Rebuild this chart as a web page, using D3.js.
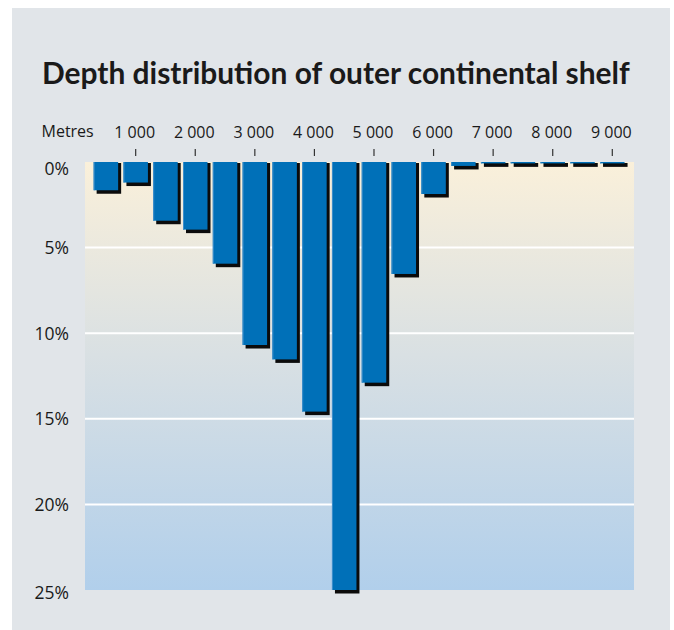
<!DOCTYPE html>
<meta charset="utf-8">
<title>Depth distribution of outer continental shelf</title>
<style>
body {
  margin: 0px;
  background: #fff;
}
text {
  font-family: "Open Sans", sans-serif;
  fill: #1a1a1a;
}
</style>
<script src="https://cdn.jsdelivr.net/npm/d3@7"></script>
<body>
<script>
var width = 674, height = 630;

// depth bins (upper end, metres) and share of outer shelf area (%)
var depths = [500, 1000, 1500, 2000, 2500, 3000, 3500, 4000, 4500,
              5000, 5500, 6000, 6500, 7000, 7500, 8000, 8500, 9000];
var shares = [1.65, 1.2, 3.43, 3.95, 5.94, 10.69, 11.53, 14.58, 25.0,
              12.89, 6.54, 1.87, 0.23, 0.08, 0.08, 0.08, 0.08, 0.08];
var depthTicks = [1000, 2000, 3000, 4000, 5000, 6000, 7000, 8000, 9000];
var shareTicks = [0, 5, 10, 15, 20, 25];

var svg = d3.select("body").append("svg")
    .attr("width", width)
    .attr("height", height);

var defs = svg.append("defs");
var grad = defs.append("linearGradient")
    .attr("id", "bg")
    .attr("x1", 0).attr("y1", 0).attr("x2", 0).attr("y2", 1);
grad.append("stop").attr("offset", "0%").attr("stop-color", "#faf0da");
grad.append("stop").attr("offset", "45%").attr("stop-color", "#d9e0e3");
grad.append("stop").attr("offset", "100%").attr("stop-color", "#b1cfeb");

// grey panel
svg.append("rect")
    .attr("x", 12).attr("y", 8)
    .attr("width", 658).attr("height", 622)
    .attr("fill", "#e1e5e9");

var x = d3.scaleLinear().domain([0, 9000]).range([76.1, 612.3]);
var y = d3.scaleLinear().domain([0, 25]).range([162, 590]);
var barW = 24.5;

var plotLeft = 85, plotRight = 634;

svg.append("rect")
    .attr("x", plotLeft).attr("y", y(0))
    .attr("width", plotRight - plotLeft).attr("height", y(25) - y(0))
    .attr("fill", "url(#bg)");

// grid lines
svg.append("g").selectAll("line")
    .data(shareTicks.filter(function(d) { return d > 0 && d < 25; }))
  .enter().append("line")
    .attr("x1", plotLeft).attr("x2", plotRight)
    .attr("y1", function(d) { return y(d); })
    .attr("y2", function(d) { return y(d); })
    .attr("stroke", "#fff")
    .attr("stroke-width", 2);

var bars = svg.append("g");
var data = depths.map(function(d, i) { return {depth: d, share: shares[i]}; });

// shadows
bars.selectAll("rect.shadow")
    .data(data)
  .enter().append("rect")
    .attr("class", "shadow")
    .attr("x", function(d) { return x(d.depth) - barW / 2 + 3; })
    .attr("y", y(0) + 1)
    .attr("width", barW)
    .attr("height", function(d) { return y(d.share) - y(0) + 2.5; })
    .attr("fill", "#0b0b0b");

bars.selectAll("rect.bar")
    .data(data)
  .enter().append("rect")
    .attr("class", "bar")
    .attr("x", function(d) { return x(d.depth) - barW / 2; })
    .attr("y", y(0))
    .attr("width", barW)
    .attr("height", function(d) { return Math.max(1.2, y(d.share) - y(0)); })
    .attr("fill", "#0070b8");

// light left edge of each bar
bars.selectAll("rect.edge")
    .data(data)
  .enter().append("rect")
    .attr("class", "edge")
    .attr("x", function(d) { return x(d.depth) - barW / 2; })
    .attr("y", y(0))
    .attr("width", 1)
    .attr("height", function(d) { return Math.max(1.2, y(d.share) - y(0)); })
    .attr("fill", "#3d8fcb");

// top axis
var topAxis = svg.append("g");
topAxis.selectAll("line")
    .data(depthTicks)
  .enter().append("line")
    .attr("x1", function(d) { return x(d); })
    .attr("x2", function(d) { return x(d); })
    .attr("y1", 149).attr("y2", 156)
    .attr("stroke", "#333")
    .attr("stroke-width", 1.2);
topAxis.selectAll("text")
    .data(depthTicks)
  .enter().append("text")
    .attr("x", function(d) { return x(d) - 1; })
    .attr("y", 138)
    .attr("text-anchor", "middle")
    .style("font-size", "16px")
    .text(function(d) { return d3.format(",")(d).replace(",", " "); });

svg.append("text")
    .attr("x", 41.5).attr("y", 137)
    .style("font-size", "16px")
    .text("Metres");

// left axis
svg.append("g").selectAll("text")
    .data(shareTicks)
  .enter().append("text")
    .attr("x", 69)
    .attr("y", function(d) { return y(d) + (d === 0 ? 6.5 : d === 25 ? 3 : 0); })
    .attr("dy", "0.36em")
    .attr("text-anchor", "end")
    .style("font-size", "17.5px")
    .text(function(d) { return d + "%"; });

// title
var title = svg.append("text")
    .attr("x", 42).attr("y", 84)
    .style("font-family", "Lato, sans-serif")
    .style("font-size", "28px")
    .style("font-weight", "bold")
    .text("Depth distribution of outer continental shelf");
var tw = title.node().getComputedTextLength();
title.style("font-size", (28 * 588 / tw) + "px");
</script>
